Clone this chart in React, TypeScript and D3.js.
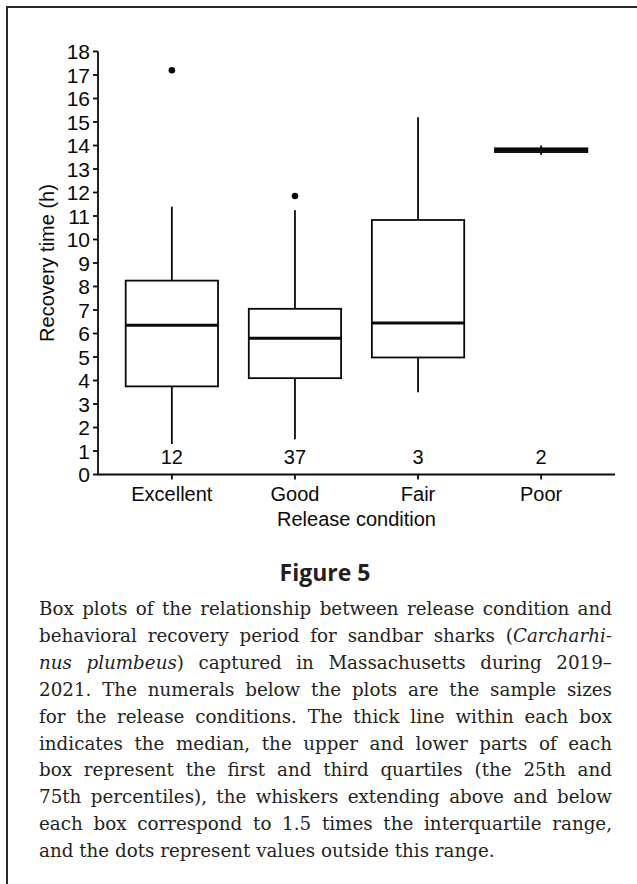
import React, { useLayoutEffect, useRef } from "react";
import * as d3 from "d3";

const categories = ["Excellent", "Good", "Fair", "Poor"];
const sampleSizes = [12, 37, 3, 2];
const q1Values = [3.75, 4.1, 4.98, 13.72];
const medianValues = [6.35, 5.8, 6.45, 13.8];
const q3Values = [8.25, 7.05, 10.83, 13.88];
const whiskerLow = [1.3, 1.5, 3.5, 13.6];
const whiskerHigh = [11.4, 11.25, 15.2, 14.0];
const outlierValues = [[17.2], [11.85], [], []];
const yTickValues = d3.range(0, 19);

const yTitle = "Recovery time (h)";
const xTitle = "Release condition";
const figureLabel = "Figure 5";

type Seg = { t: string; i?: boolean };
const captionLines: Seg[][] = [
  [{ t: "Box plots of the relationship between release condition and" }],
  [{ t: "behavioral recovery period for sandbar sharks (" }, { t: "Carcharhi-", i: true }],
  [{ t: "nus plumbeus", i: true }, { t: ") captured in Massachusetts during 2019–" }],
  [{ t: "2021. The numerals below the plots are the sample sizes" }],
  [{ t: "for the release conditions. The thick line within each box" }],
  [{ t: "indicates the median, the upper and lower parts of each" }],
  [{ t: "box represent the first and third quartiles (the 25th and" }],
  [{ t: "75th percentiles), the whiskers extending above and below" }],
  [{ t: "each box correspond to 1.5 times the interquartile range," }],
  [{ t: "and the dots represent values outside this range." }],
];

export default function App() {
  const W = 637;
  const H = 884;
  const left = 98;
  const right = 615;
  const y0 = 474.5;
  const y18 = 51.5;
  const x = d3.scalePoint<string>().domain(categories).range([left, right]).padding(0.6);
  const y = d3.scaleLinear().domain([0, 18]).range([y0, y18]);
  const step = x.step();
  const bw = step * 0.75;
  const sans = "'Liberation Sans', Arial, Helvetica, sans-serif";
  const fs = 20;
  const ink = "#0a0a0a";
  const sw = 1.8;

  const capLeft = 39;
  const capRight = 612;
  const capFirstBase = 615;
  const capLH = 26.9;

  const capRefs = useRef<(SVGTextElement | null)[]>([]);

  useLayoutEffect(() => {
    capRefs.current.forEach((el, li) => {
      if (!el || li === captionLines.length - 1) return;
      el.setAttribute("word-spacing", "0");
      const natural = el.getComputedTextLength();
      const text = captionLines[li].map((s) => s.t).join("");
      const spaces = (text.match(/ /g) || []).length;
      if (spaces > 0) {
        const extra = (capRight - capLeft - natural) / spaces;
        el.setAttribute("word-spacing", String(extra));
      }
    });
  }, []);

  return (
    <svg width={W} height={H} style={{ position: "absolute", left: 0, top: 0, display: "block" }}>
      <rect x={0} y={0} width={W} height={H} fill="#fff" />
      {/* frame */}
      <line x1={6} y1={7} x2={W} y2={7} stroke="#2a2a2a" strokeWidth={2} />
      <line x1={7} y1={6} x2={7} y2={H} stroke="#2a2a2a" strokeWidth={2} />

      {/* y axis */}
      <line x1={left} y1={y(18)} x2={left} y2={y(0)} stroke={ink} strokeWidth={sw} />
      {yTickValues.map((v) => (
        <g key={"yt" + v}>
          <line x1={left - 5} x2={left} y1={y(v)} y2={y(v)} stroke={ink} strokeWidth={sw} />
          <text x={left - 8} y={y(v)} dy="0.36em" textAnchor="end" fontFamily={sans} fontSize={21} fill={ink}>
            {v}
          </text>
        </g>
      ))}
      <text
        transform={`translate(${47},${(y(0) + y(18)) / 2}) rotate(-90)`}
        textAnchor="middle"
        dy="0.36em"
        fontFamily={sans}
        fontSize={fs}
        fill={ink}
      >
        {yTitle}
      </text>

      {/* x axis */}
      <line x1={left - 1} x2={right} y1={y(0)} y2={y(0)} stroke={ink} strokeWidth={sw} />
      {categories.map((c) => (
        <g key={"xt" + c}>
          <line x1={x(c)} x2={x(c)} y1={y(0)} y2={y(0) + 5} stroke={ink} strokeWidth={sw} />
          <text x={x(c)} y={y(0) + 26} textAnchor="middle" fontFamily={sans} fontSize={fs} fill={ink}>
            {c}
          </text>
        </g>
      ))}
      <text x={(left + right) / 2} y={y(0) + 51} textAnchor="middle" fontFamily={sans} fontSize={fs} fill={ink}>
        {xTitle}
      </text>

      {/* boxes */}
      {categories.map((c, i) => {
        const cx = x(c) as number;
        return (
          <g key={"box" + c}>
            <line x1={cx} x2={cx} y1={y(q3Values[i])} y2={y(whiskerHigh[i])} stroke={ink} strokeWidth={sw} />
            <line x1={cx} x2={cx} y1={y(q1Values[i])} y2={y(whiskerLow[i])} stroke={ink} strokeWidth={sw} />
            <rect
              x={cx - bw / 2}
              width={bw}
              y={y(q3Values[i])}
              height={y(q1Values[i]) - y(q3Values[i])}
              fill="#fff"
              stroke={ink}
              strokeWidth={sw}
            />
            <line x1={cx - bw / 2} x2={cx + bw / 2} y1={y(medianValues[i])} y2={y(medianValues[i])} stroke={ink} strokeWidth={3} />
            {outlierValues[i].map((o, k) => (
              <circle key={k} cx={cx} cy={y(o)} r={3.3} fill={ink} />
            ))}
            <text x={cx} y={y(0.75)} dy="0.36em" textAnchor="middle" fontFamily={sans} fontSize={fs} fill={ink}>
              {sampleSizes[i]}
            </text>
          </g>
        );
      })}

      {/* figure label */}
      <text x={325} y={581} textAnchor="middle" fontFamily="'Open Sans', sans-serif" fontWeight={700} fontSize={23} fill="#231f20">
        {figureLabel}
      </text>

      {/* caption */}
      {captionLines.map((segs, li) => (
        <text
          key={"cap" + li}
          ref={(el) => {
            capRefs.current[li] = el;
          }}
          x={capLeft}
          y={capFirstBase + li * capLH}
          fontFamily="'DejaVu Serif', serif"
          fontSize={18.3}
          fill="#231f20"
        >
          {segs.map((s, k) => (
            <tspan key={k} fontStyle={s.i ? "italic" : "normal"}>
              {s.t}
            </tspan>
          ))}
        </text>
      ))}
    </svg>
  );
}
